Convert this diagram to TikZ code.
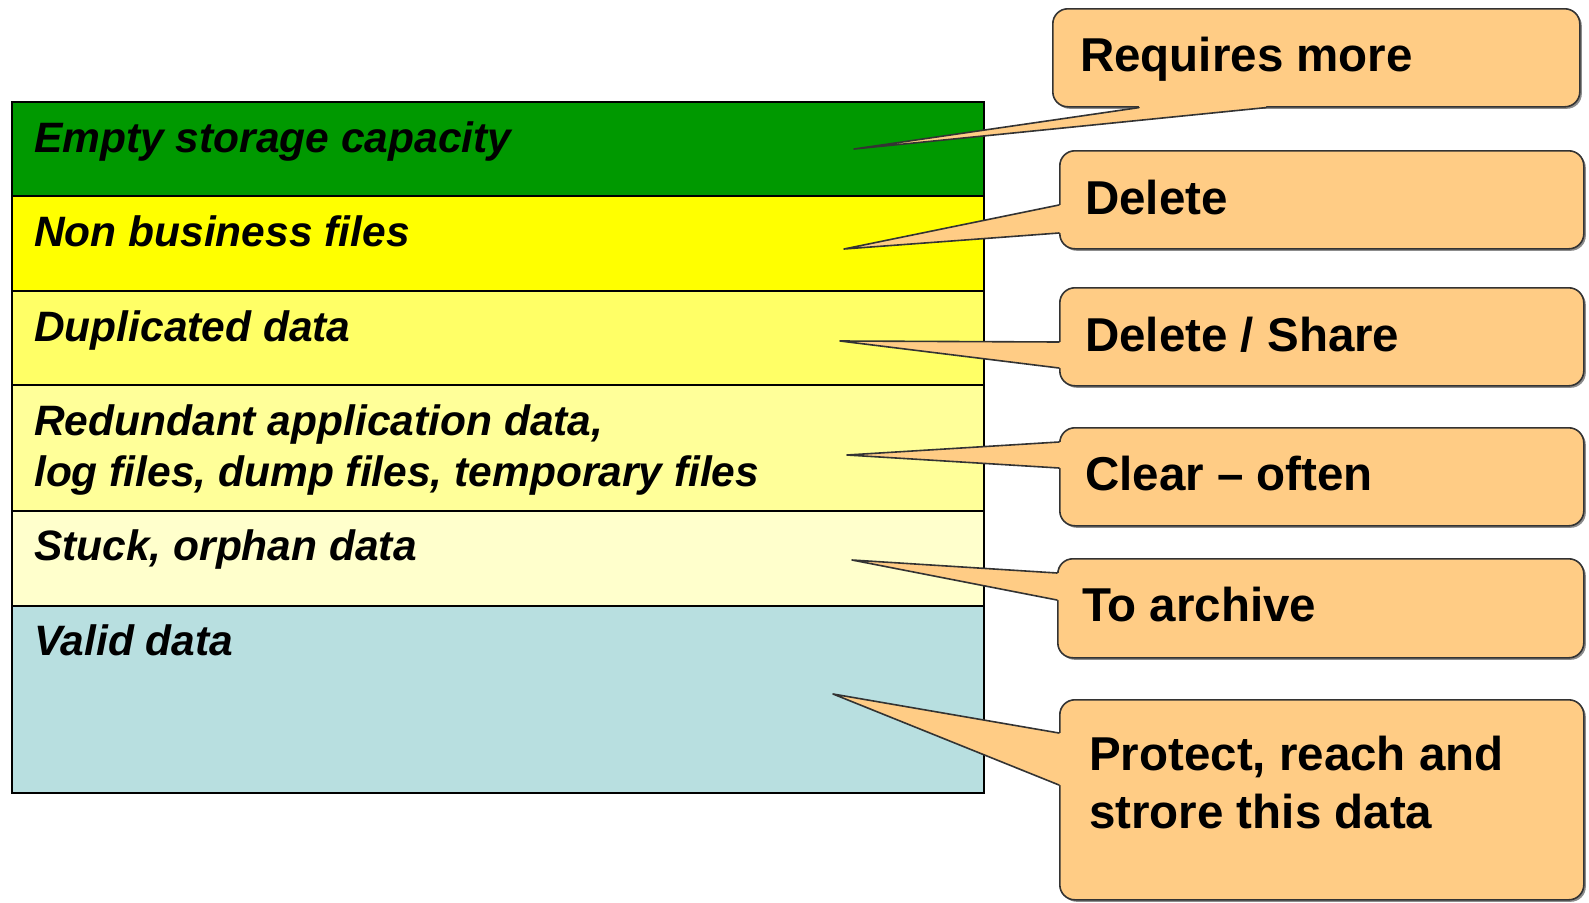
\documentclass[tikz,border=0pt]{standalone}
\usepackage{fontspec}
\setmainfont{Liberation Sans}
\usepackage{xcolor}
\usetikzlibrary{shadows}

\definecolor{capgreen}{RGB}{0,153,0}
\definecolor{nonbiz}{RGB}{255,255,0}
\definecolor{dupdata}{RGB}{255,255,102}
\definecolor{redundant}{RGB}{255,255,153}
\definecolor{stuck}{RGB}{255,255,204}
\definecolor{validdata}{RGB}{184,223,224}
\definecolor{peach}{RGB}{255,204,133}

\tikzset{
  row/.style={draw=black, line width=1.5pt, rectangle, anchor=north west, inner sep=0pt, minimum width=972pt},
  rowtext/.style={anchor=base west, inner sep=0pt, align=left, font=\fontsize{42.5}{51}\selectfont\bfseries\itshape},
  balloon/.style={draw=black!80, line width=1.6pt, fill=peach, rectangle, rounded corners=15pt, anchor=north west, inner sep=0pt,
    drop shadow={shadow xshift=2pt, shadow yshift=-2pt, fill=black!45, opacity=1}},
  balloontext/.style={anchor=base west, inner sep=0pt, align=left, font=\fontsize{47.5}{58}\selectfont\bfseries},
  wedge/.style={fill=peach},
  wedgeline/.style={draw=black!80, line width=1.6pt, line join=round, line cap=round}
}

\begin{document}
\begin{tikzpicture}[x=1pt, y=-1pt]
        \useasboundingbox (0,0) rectangle (1589,902);

        % Storage layers
        \node[row, fill=capgreen, minimum height=94pt] (r1) at (11,101) {};
        \node[row, fill=nonbiz, minimum height=95pt] (r2) at (11,195) {};
        \node[row, fill=dupdata, minimum height=94pt] (r3) at (11,290) {};
        \node[row, fill=redundant, minimum height=126pt] (r4) at (11,384) {};
        \node[row, fill=stuck, minimum height=95pt] (r5) at (11,510) {};
        \node[row, fill=validdata, minimum height=187pt] (r6) at (11,605) {};
        \node[rowtext] (t1) at ([shift={(23,51)}]r1.north west) {Empty storage capacity};
        \node[rowtext] (t2) at ([shift={(23,51)}]r2.north west) {Non business files};
        \node[rowtext] (t3) at ([shift={(23,51)}]r3.north west) {Duplicated data};
        % base of a two line node is its last line
        \node[rowtext] (t4) at ([shift={(23,102)}]r4.north west) {Redundant application data,\\log files, dump files, temporary files};
        \node[rowtext] (t5) at ([shift={(23,50)}]r5.north west) {Stuck, orphan data};
        \node[rowtext] (t6) at ([shift={(23,50)}]r6.north west) {Valid data};

        % Requires more
        \node[balloon, minimum width=527pt, minimum height=98pt] (more) at (1052,8) {};
        \coordinate (moreTip) at (854,149);
        \coordinate (moreA) at ([xshift=87pt]more.south west);
        \coordinate (moreB) at ([xshift=214pt]more.south west);
        \fill[wedge] (moreTip) -- (moreA) -- ([yshift=3pt]moreA) -- ([yshift=3pt]moreB) -- (moreB) -- cycle;
        \draw[wedgeline] (moreA) -- (moreTip) -- (moreB);
        \node[balloontext] (moreText) at ([shift={(28,63)}]more.north west) {Requires more};

        % Delete
        \node[balloon, minimum width=524pt, minimum height=98pt] (del) at (1059,150) {};
        \coordinate (delTip) at (844,249);
        \coordinate (delA) at ([yshift=-55pt]del.north west);
        \coordinate (delB) at ([yshift=-83pt]del.north west);
        \fill[wedge] (delTip) -- (delA) -- ([xshift=3pt]delA) -- ([xshift=3pt]delB) -- (delB) -- cycle;
        \draw[wedgeline] (delA) -- (delTip) -- (delB);
        \node[balloontext] (delText) at ([shift={(26,64)}]del.north west) {Delete};

        % Delete / Share
        \node[balloon, minimum width=524pt, minimum height=98pt] (share) at (1059,287) {};
        \coordinate (shareTip) at (840,341);
        \coordinate (shareA) at ([yshift=-55pt]share.north west);
        \coordinate (shareB) at ([yshift=-81pt]share.north west);
        \fill[wedge] (shareTip) -- (shareA) -- ([xshift=3pt]shareA) -- ([xshift=3pt]shareB) -- (shareB) -- cycle;
        \draw[wedgeline] (shareA) -- (shareTip) -- (shareB);
        \node[balloontext] (shareText) at ([shift={(26,64)}]share.north west) {Delete / Share};

        % Clear - often
        \node[balloon, minimum width=524pt, minimum height=98pt] (clear) at (1059,427) {};
        \coordinate (clearTip) at (847,455);
        \coordinate (clearA) at ([yshift=-15pt]clear.north west);
        \coordinate (clearB) at ([yshift=-41pt]clear.north west);
        \fill[wedge] (clearTip) -- (clearA) -- ([xshift=3pt]clearA) -- ([xshift=3pt]clearB) -- (clearB) -- cycle;
        \draw[wedgeline] (clearA) -- (clearTip) -- (clearB);
        \node[balloontext] (clearText) at ([shift={(26,63)}]clear.north west) {Clear -- often};

        % To archive
        \node[balloon, minimum width=526pt, minimum height=99pt] (arch) at (1057,558) {};
        \coordinate (archTip) at (852,560);
        \coordinate (archA) at ([yshift=-15pt]arch.north west);
        \coordinate (archB) at ([yshift=-42pt]arch.north west);
        \fill[wedge] (archTip) -- (archA) -- ([xshift=3pt]archA) -- ([xshift=3pt]archB) -- (archB) -- cycle;
        \draw[wedgeline] (archA) -- (archTip) -- (archB);
        \node[balloontext] (archText) at ([shift={(25,63)}]arch.north west) {To archive};

        % Protect, reach and store
        \node[balloon, minimum width=524pt, minimum height=200pt] (prot) at (1059,699) {};
        \coordinate (protTip) at (833,694);
        \coordinate (protA) at ([yshift=-34pt]prot.north west);
        \coordinate (protB) at ([yshift=-86pt]prot.north west);
        \fill[wedge] (protTip) -- (protA) -- ([xshift=3pt]protA) -- ([xshift=3pt]protB) -- (protB) -- cycle;
        \draw[wedgeline] (protA) -- (protTip) -- (protB);
        \node[balloontext] (protText) at ([shift={(30,129)}]prot.north west) {Protect, reach and\\strore this data};
    \end{tikzpicture}
\end{document}
